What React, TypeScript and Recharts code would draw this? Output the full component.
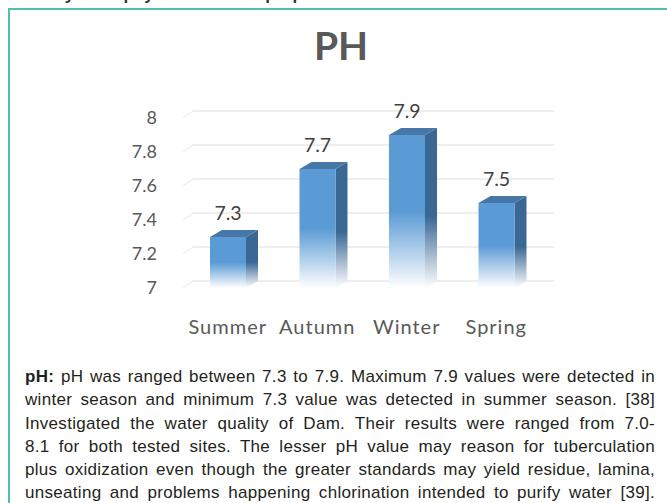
import React from "react";
import { BarChart, Bar, XAxis, YAxis, CartesianGrid, LabelList } from "recharts";

const seasons = ["Summer", "Autumn", "Winter", "Spring"];
const phValues = [7.3, 7.7, 7.9, 7.5];
const yTicks = [7, 7.2, 7.4, 7.6, 7.8, 8];
const title = "PH";
const headingText = "Analysis of physicochemical properties";
const paragraphLines = [
  "pH was ranged between 7.3 to 7.9. Maximum 7.9 values were detected in",
  "winter season and minimum 7.3 value was detected in summer season. [38]",
  "Investigated the water quality of Dam. Their results were ranged from 7.0-",
  "8.1 for both tested sites. The lesser pH value may reason for tuberculation",
  "plus oxidization even though the greater standards may yield residue, lamina,",
  "unseating and problems happening chlorination intended to purify water [39].",
];

const data = seasons.map((s, i) => ({ season: s, ph: phValues[i] }));

const DX = 12;
const DY = 7;

const Bar3D = (props: any) => {
  const { x, y, width, height } = props;
  if (height == null || height <= 0) return null;
  const side = `${x + width},${y} ${x + width + DX},${y - DY} ${x + width + DX},${y + height - DY} ${x + width},${y + height}`;
  const top = `${x},${y} ${x + DX},${y - DY} ${x + width + DX},${y - DY} ${x + width},${y}`;
  return (
    <g>
      <polygon points={side} fill="url(#sideGrad)" />
      <polygon points={top} fill="#4677a8" />
      <rect x={x} y={y} width={width} height={height} fill="url(#frontGrad)" />
    </g>
  );
};

const GridLine = (props: any) => {
  const { x1, y1, x2 } = props;
  return (
    <g>
      <line x1={x1} y1={y1} x2={x1 + 10} y2={y1 - DY} stroke="#eeeeee" strokeWidth={1.5} />
      <line x1={x1 + 10} y1={y1 - DY} x2={x2 + 13} y2={y1 - DY} stroke="#e8e8e8" strokeWidth={1.5} />
    </g>
  );
};

const fontCal = "Lato, 'Open Sans', sans-serif";

export default function App() {
  return (
    <div
      style={{
        position: "absolute",
        left: 0,
        top: 0,
        width: 667,
        height: 503,
        overflow: "hidden",
        background: "#ffffff",
      }}
    >
      <div
        style={{
          position: "absolute",
          left: 28,
          top: -13,
          fontFamily: "'Liberation Sans', Arial, sans-serif",
          fontWeight: 700,
          fontSize: 17,
          lineHeight: "16px",
          color: "#333333",
          whiteSpace: "nowrap",
        }}
      >
        {headingText}
      </div>
      <div
        style={{
          position: "absolute",
          left: 8,
          top: 8,
          width: 700,
          height: 600,
          borderLeft: "2px solid #55bfa6",
          borderTop: "2px solid #55bfa6",
        }}
      />
      <div
        style={{
          position: "absolute",
          left: 241,
          top: 22,
          width: 200,
          textAlign: "center",
          fontFamily: fontCal,
          fontWeight: 700,
          fontSize: 39,
          lineHeight: "46px",
          color: "#595959",
        }}
      >
        {title}
      </div>
      <div style={{ position: "absolute", left: 0, top: 0 }}>
        <BarChart
          width={667}
          height={350}
          data={data}
          margin={{ top: 118, right: 126, bottom: 0, left: 0 }}
          barSize={36}
        >
          <defs>
            <linearGradient id="frontGrad" x1="0" y1="0" x2="0" y2="1">
              <stop offset="0%" stopColor="#5b9bd5" />
              <stop offset="50%" stopColor="#5b9bd5" />
              <stop offset="100%" stopColor="#ffffff" />
            </linearGradient>
            <linearGradient id="sideGrad" x1="0" y1="0" x2="0" y2="1">
              <stop offset="0%" stopColor="#3a6794" />
              <stop offset="55%" stopColor="#3a6794" />
              <stop offset="100%" stopColor="#ffffff" />
            </linearGradient>
          </defs>
          <CartesianGrid vertical={false} horizontal={GridLine as any} />
          <XAxis
            dataKey="season"
            axisLine={false}
            tickLine={false}
            tickSize={0}
            tickMargin={32}
            height={62}
            interval={0}
            tick={{ fill: "#595959", fontSize: 20, fontFamily: fontCal, letterSpacing: 1 }}
          />
          <YAxis
            type="number"
            domain={[7, 8]}
            ticks={yTicks}
            width={183}
            axisLine={false}
            tickLine={false}
            tickSize={0}
            tickMargin={26}
            tick={{ fill: "#595959", fontSize: 18, fontFamily: fontCal }}
            tickFormatter={(v: number) => String(Math.round(v * 10) / 10)}
          />
          <Bar dataKey="ph" shape={Bar3D} isAnimationActive={false}>
            <LabelList
              dataKey="ph"
              position="top"
              offset={17}
              fill="#404040"
              fontSize={19.5}
              fontFamily={fontCal}
              formatter={(v: any) => Number(v).toFixed(1)}
            />
          </Bar>
        </BarChart>
      </div>
      <div
        style={{
          position: "absolute",
          left: 25,
          top: 365,
          width: 630,
          fontFamily: "'Liberation Sans', Arial, sans-serif",
          fontSize: 17,
          letterSpacing: 0.3,
          lineHeight: "23.3px",
          color: "#231f20",
        }}
      >
        {paragraphLines.map((line, i) => (
          <div
            key={i}
            style={{
              textAlign: "justify",
              textAlignLast: "justify",
              whiteSpace: "nowrap",
              height: 23.3,
            } as any}
          >
            {i === 0 ? (
              <>
                <b>pH:</b> {line}
              </>
            ) : (
              line
            )}
          </div>
        ))}
      </div>
    </div>
  );
}
